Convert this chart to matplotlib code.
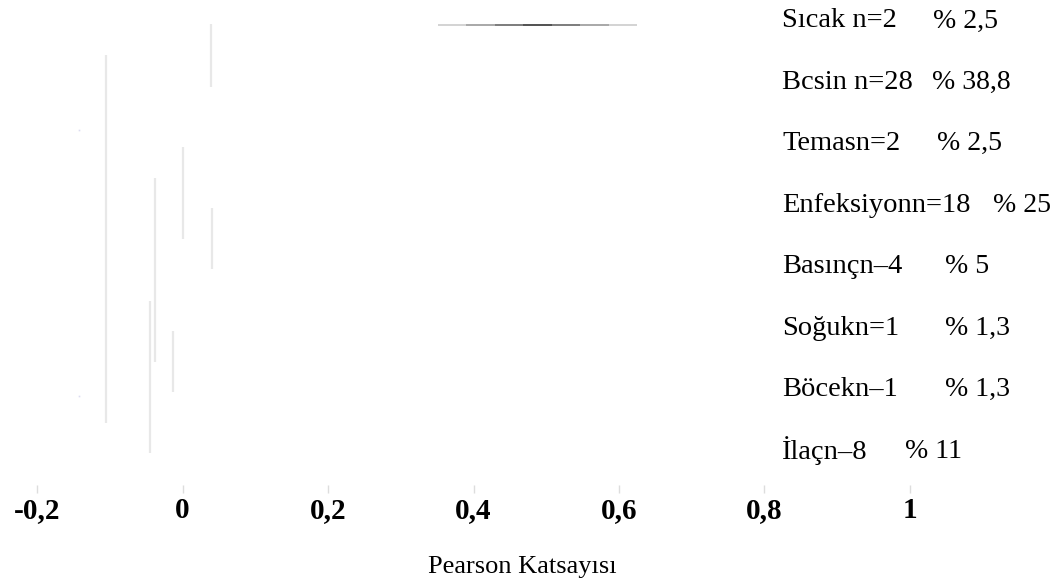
import numpy as np
import matplotlib
matplotlib.use("Agg")
import matplotlib.pyplot as plt
from matplotlib.collections import LineCollection

# category labels on the right
names = ["Sıcak", "Bcsin", "Temas", "Enfeksiyon", "Basınç", "Soğuk", "Böcek", "İlaç"]
n_sep = [" n=", " n=", "n=", "n=", "n–", "n=", "n–", "n–"]
n_vals = [2, 28, 2, 18, 4, 1, 1, 8]
pct = ["2,5", "38,8", "2,5", "25", "5", "1,3", "1,3", "11"]

# faint vertical segments: x value, row start, row end
seg_x = [-0.105, 0.039, 0.0, -0.038, 0.041, -0.045, -0.013]
seg_y0 = [0.60, 0.10, 2.10, 2.60, 3.09, 4.61, 5.10]
seg_y1 = [6.59, 1.12, 3.60, 5.60, 4.09, 7.08, 6.09]

# tiny stray points
dot_x = [-0.142, -0.142]
dot_y = [1.82, 6.15]

# horizontal line at the top
h_x0, h_x1, h_y = 0.351, 0.625, 0.11
h_shades = ["#cccccc", "#999999", "#666666", "#333333", "#666666", "#999999", "#cccccc"]

xticks = [-0.2, 0, 0.2, 0.4, 0.6, 0.8, 1]
xtick_labels = ["-0,2", "0", "0,2", "0,4", "0,6", "0,8", "1"]

fig = plt.figure(figsize=(10.57, 5.78), dpi=100)
ax = fig.add_axes([0, 93 / 578, 1, 485 / 578])
ax.set_xlim(-0.2509, 1.2021)
ax.set_ylim(7.602, -0.293)

for x, a, b in zip(seg_x, seg_y0, seg_y1):
    ax.plot([x, x], [a, b], color="#e8e8e8", lw=1.6, solid_capstyle="butt")

ax.plot(dot_x, dot_y, "s", color="#dcdcf0", ms=1.2, mew=0)

edges = np.linspace(h_x0, h_x1, len(h_shades) + 1)
segs = [[(edges[i], h_y), (edges[i + 1], h_y)] for i in range(len(h_shades))]
ax.add_collection(LineCollection(segs, colors=h_shades, linewidths=1.2))

name_x = 782 / 1057
pct_x = [933, 932, 937, 993, 945, 945, 945, 905]
for i in range(len(names)):
    ax.text(name_x, i, names[i] + n_sep[i] + str(n_vals[i]),
            transform=ax.get_yaxis_transform(), ha="left", va="center_baseline",
            fontsize=20.5, family="Liberation Serif")
    ax.text(pct_x[i] / 1057, i, "% " + pct[i],
            transform=ax.get_yaxis_transform(), ha="left", va="center_baseline",
            fontsize=20, family="Liberation Serif")

ax.set_xticks(xticks)
ax.set_xticklabels(xtick_labels, fontsize=21, fontweight="bold", family="Liberation Serif")
ax.tick_params(axis="x", length=6, width=1, color="#dddddd", pad=3)
ax.set_yticks([])
for s in ax.spines.values():
    s.set_visible(False)

fig.text(522 / 1057, 1 - 567 / 578, "Pearson Katsayısı", ha="center", va="center",
         fontsize=19, family="Liberation Serif")

fig.savefig("out.png", dpi=100, facecolor="white")
